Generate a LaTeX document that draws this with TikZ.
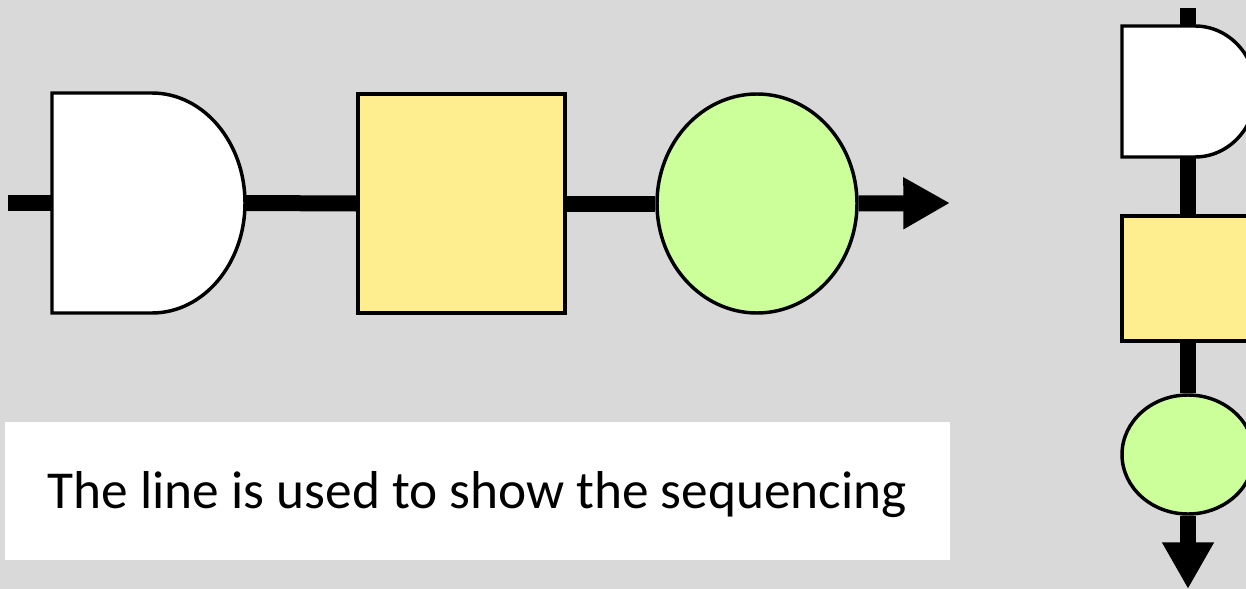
\documentclass[tikz,border=0pt]{standalone}
\usepackage{fontspec}
\setmainfont{Carlito}
\usetikzlibrary{shapes.geometric,arrows.meta}
\def\pxu{0.75pt}
\definecolor{bgc}{HTML}{D9D9D9}
\definecolor{yel}{HTML}{FFEE8F}
\definecolor{grn}{HTML}{CCFF99}
\tikzset{
  outl/.style={draw=black, line width=2.6pt, line join=miter},
  boxshape/.style={outl, rectangle, fill=yel, inner sep=0pt},
  ellshape/.style={outl, ellipse, fill=grn, inner sep=0pt},
  gate/.style={outl, fill=white},
  seqline/.style={line width=12pt, draw=black, line cap=butt},
  seqarrow/.style={seqline, -{Triangle[length=35pt, width=36.5pt]}},
  caption/.style={rectangle, fill=white, inner sep=0pt, font=\fontsize{40pt}{48pt}\selectfont,
    text height=25.5pt, text depth=0pt}
}
\begin{document}
\begin{tikzpicture}[x=0.75pt, y=-0.75pt]
\clip (0,0) rectangle (1246,589);
\fill[bgc] (0,0) rectangle (1246,589);

% ---------- horizontal sequence ----------
\coordinate (hstart) at (8,203);
\coordinate (hend) at (950,203);
\coordinate (d1w) at (52,203);
\coordinate (d1e) at (245,203);
\draw[gate] (52,93) -- (152,93) arc[start angle=-90, end angle=90, x radius=93, y radius=110] -- (52,313) -- cycle;
\node[boxshape, minimum width=207*\pxu, minimum height=219*\pxu] (y1) at (461.5,203.5) {};
\node[ellshape, minimum width=200*\pxu, minimum height=219*\pxu] (e1) at (757,203.5) {};

\draw[seqline] (hstart) -- (d1w);
\draw[seqline] (d1e) -- (y1.west);
\draw[seqline] (y1.east) -- (e1.west);
\draw[seqarrow] (e1.east) -- (hend);

% ---------- vertical sequence ----------
\coordinate (vstart) at (1188,8);
\coordinate (vend) at (1188,589);
\coordinate (d2n) at (1188,26);
\coordinate (d2s) at (1188,157);
\draw[gate] (1122,26) -- (1195,26) arc[start angle=-90, end angle=90, x radius=61, y radius=65.5] -- (1122,157) -- cycle;
\node[boxshape, minimum width=132*\pxu, minimum height=125*\pxu] (y2) at (1188,278.5) {};
\node[ellshape, minimum width=132*\pxu, minimum height=119*\pxu] (e2) at (1188,454.5) {};

\draw[seqline] (vstart) -- (d2n);
\draw[seqline] (d2s) -- (y2.north);
\draw[seqline] (y2.south) -- (e2.north);
\draw[seqarrow] (e2.south) -- (vend);

% ---------- caption ----------
\node[caption, minimum width=945*\pxu, minimum height=138*\pxu] (cap) at (477.5,491) {The line is used to show the sequencing};
\end{tikzpicture}
\end{document}
